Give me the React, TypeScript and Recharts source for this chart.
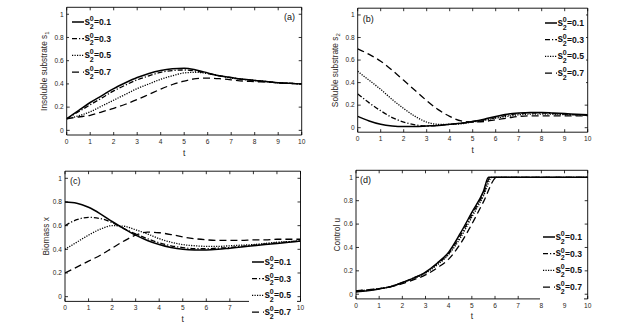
import React from 'react';
import { LineChart, Line, XAxis, YAxis, Legend, Label } from 'recharts';

// time grid shared by panels (a)-(c)
const T = [0, 0.5, 1, 1.5, 2, 2.5, 3, 3.5, 4, 4.5, 5, 5.5, 6, 6.5, 7, 7.5, 8, 8.5, 9, 9.5, 10];

const LEVELS = ['0.1', '0.3', '0.5', '0.7'];

// (a) insoluble substrate s1
const S1_01 = [0.1, 0.17, 0.24, 0.3, 0.36, 0.41, 0.455, 0.49, 0.515, 0.53, 0.535, 0.52, 0.495, 0.47, 0.455, 0.44, 0.43, 0.42, 0.41, 0.405, 0.4];
const S1_03 = [0.1, 0.16, 0.22, 0.28, 0.34, 0.39, 0.435, 0.47, 0.5, 0.515, 0.52, 0.51, 0.49, 0.47, 0.455, 0.44, 0.43, 0.42, 0.41, 0.405, 0.4];
const S1_05 = [0.1, 0.125, 0.16, 0.21, 0.26, 0.31, 0.36, 0.4, 0.44, 0.47, 0.495, 0.5, 0.49, 0.47, 0.45, 0.44, 0.43, 0.42, 0.41, 0.405, 0.4];
const S1_07 = [0.1, 0.115, 0.13, 0.16, 0.19, 0.225, 0.265, 0.31, 0.355, 0.395, 0.425, 0.445, 0.45, 0.445, 0.435, 0.425, 0.42, 0.415, 0.41, 0.405, 0.4];

// (b) soluble substrate s2
const S2_01 = [0.1, 0.06, 0.03, 0.015, 0.01, 0.01, 0.015, 0.02, 0.03, 0.04, 0.055, 0.075, 0.1, 0.12, 0.13, 0.135, 0.135, 0.13, 0.125, 0.12, 0.115];
const S2_03 = [0.3, 0.22, 0.15, 0.09, 0.05, 0.025, 0.015, 0.02, 0.03, 0.04, 0.055, 0.07, 0.09, 0.11, 0.125, 0.13, 0.13, 0.125, 0.12, 0.115, 0.11];
const S2_05 = [0.5, 0.42, 0.34, 0.25, 0.17, 0.1, 0.05, 0.03, 0.03, 0.035, 0.05, 0.065, 0.085, 0.1, 0.115, 0.12, 0.12, 0.12, 0.115, 0.115, 0.11];
const S2_07 = [0.7, 0.65, 0.59, 0.51, 0.42, 0.33, 0.24, 0.16, 0.1, 0.06, 0.05, 0.055, 0.07, 0.085, 0.1, 0.105, 0.105, 0.105, 0.105, 0.105, 0.105];

// (c) biomass x
const X_01 = [0.8, 0.79, 0.755, 0.7, 0.635, 0.575, 0.52, 0.475, 0.44, 0.415, 0.4, 0.395, 0.395, 0.4, 0.41, 0.42, 0.43, 0.44, 0.45, 0.46, 0.47];
const X_03 = [0.6, 0.65, 0.67, 0.66, 0.625, 0.575, 0.53, 0.49, 0.455, 0.43, 0.415, 0.405, 0.405, 0.41, 0.415, 0.425, 0.435, 0.445, 0.455, 0.465, 0.47];
const X_05 = [0.4, 0.46, 0.52, 0.57, 0.6, 0.595, 0.565, 0.53, 0.49, 0.46, 0.44, 0.43, 0.425, 0.425, 0.43, 0.435, 0.44, 0.45, 0.46, 0.465, 0.47];
const X_07 = [0.2, 0.25, 0.3, 0.35, 0.41, 0.47, 0.52, 0.545, 0.54, 0.525, 0.505, 0.49, 0.48, 0.475, 0.475, 0.475, 0.48, 0.48, 0.485, 0.485, 0.485];

// (d) control u, each run saturates at a different time
const TU_01 = [0, 0.5, 1, 1.5, 2, 2.5, 3, 3.5, 4, 4.5, 5, 5.5, 5.72, 6, 7, 8, 9, 10];
const U_01 = [0.02, 0.03, 0.045, 0.065, 0.1, 0.14, 0.19, 0.265, 0.36, 0.52, 0.7, 0.88, 1, 1, 1, 1, 1, 1];
const TU_03 = [0, 0.5, 1, 1.5, 2, 2.5, 3, 3.5, 4, 4.5, 5, 5.5, 5.8, 6, 7, 8, 9, 10];
const U_03 = [0.025, 0.033, 0.047, 0.066, 0.1, 0.14, 0.185, 0.26, 0.35, 0.5, 0.68, 0.86, 1, 1, 1, 1, 1, 1];
const TU_05 = [0, 0.5, 1, 1.5, 2, 2.5, 3, 3.5, 4, 4.5, 5, 5.5, 5.87, 6, 7, 8, 9, 10];
const U_05 = [0.03, 0.036, 0.048, 0.066, 0.098, 0.135, 0.18, 0.25, 0.34, 0.48, 0.66, 0.84, 1, 1, 1, 1, 1, 1];
const TU_07 = [0, 0.5, 1, 1.5, 2, 2.5, 3, 3.5, 4, 4.5, 5, 5.5, 6.08, 7, 8, 9, 10];
const U_07 = [0.03, 0.037, 0.048, 0.064, 0.09, 0.125, 0.165, 0.225, 0.3, 0.43, 0.6, 0.79, 1, 1, 1, 1, 1];

const X_TICKS = [0, 1, 2, 3, 4, 5, 6, 7, 8, 9, 10];
const Y_TICKS = [0, 0.2, 0.4, 0.6, 0.8, 1];

const DASH = [undefined, '5 2 1.2 2', '1.2 1.3', '7 4'];
const SW = [1.5, 1.3, 1.3, 1.3];
const FONT = 'Liberation Sans, Arial, sans-serif';
const TXT = '#2b2622';

const toSeries = (ts: number[], vs: number[]) => ts.map((t, i) => ({ t, v: vs[i] }));

type Box = { top: number; right: number; bottom: number; left: number };

type PanelProps = {
  left: number;
  top: number;
  width: number;
  height: number;
  plot: Box; // plot-area insets inside the panel
  series: { t: number; v: number }[][];
  yLabel: React.ReactNode;
  yLabelDx: number;
  tag: string;
  tagRight: boolean;
  tagDx: number;
  tagDy: number;
  legendLeft: number;
  legendTop: number;
  legendBoxW: number;
  coveredX?: number[]; // x tick labels sitting under the legend box
};

const fmt = (v: number) => String(v);

function LegendBox({ w }: { w: number }) {
  return (
    <svg width={60} height={72} style={{ overflow: 'visible', display: 'block' }}>
      <rect x={-1} y={-2} width={w} height={74} fill="#fff" />
      {LEVELS.map((lv, i) => {
        const y = 8 + i * 16.7;
        return (
          <g key={lv} fontFamily={FONT} fontWeight="bold" fill="#111">
            <line x1={2} x2={14} y1={y} y2={y} stroke="#000" strokeWidth={SW[i]} strokeDasharray={DASH[i]} />
            <text x={14.5} y={y + 2.6} fontSize={10}>s</text>
            <text x={19.8} y={y - 1.2} fontSize={7}>0</text>
            <text x={19.8} y={y + 6.6} fontSize={7}>2</text>
            <text x={24} y={y + 2.8} fontSize={8.6}>={lv}</text>
          </g>
        );
      })}
    </svg>
  );
}

function Panel(p: PanelProps) {
  // axes take 1px each, so margins are the plot insets minus 1
  const margin = { top: p.plot.top - 1, right: p.plot.right - 1, bottom: p.plot.bottom - 1, left: p.plot.left - 1 };
  const plotTop = p.plot.top;
  const covered = p.coveredX || [];
  return (
    <div style={{ position: 'absolute', left: p.left, top: p.top }}>
      <LineChart width={p.width} height={p.height} margin={margin}>
        <XAxis
          xAxisId="b"
          dataKey="t"
          type="number"
          domain={[0, 10]}
          ticks={X_TICKS}
          interval={0}
          allowDataOverflow
          height={1}
          tickSize={0}
          tickMargin={0}
          tickLine={false}
          axisLine={{ stroke: '#000', strokeWidth: 0.9 }}
          tick={(tp: any) => (
            <g>
              <line x1={tp.x} x2={tp.x} y1={tp.y} y2={tp.y - 3} stroke="#000" strokeWidth={0.8} />
              {covered.includes(tp.payload.value) ? null : (
                <text x={tp.x} y={tp.y + 9} textAnchor="middle" fontSize={6.6} fontFamily={FONT} fill={TXT}>
                  {fmt(tp.payload.value)}
                </text>
              )}
            </g>
          )}
        >
          <Label
            content={(lp: any) => {
              const vb = lp.viewBox;
              return (
                <text x={vb.x + vb.width / 2} y={vb.y + 20.5} textAnchor="middle" fontSize={8.5} fontFamily={FONT} fill={TXT}>
                  t
                </text>
              );
            }}
          />
        </XAxis>
        <XAxis
          xAxisId="tp"
          orientation="top"
          dataKey="t"
          type="number"
          domain={[0, 10]}
          ticks={X_TICKS}
          interval={0}
          allowDataOverflow
          height={1}
          tickSize={0}
          tickMargin={0}
          tickLine={false}
          axisLine={{ stroke: '#000', strokeWidth: 0.9 }}
          tick={(tp: any) => <line x1={tp.x} x2={tp.x} y1={tp.y} y2={tp.y + 3} stroke="#000" strokeWidth={0.8} />}
        >
          <Label
            content={(lp: any) => {
              const vb = lp.viewBox;
              const x = p.tagRight ? vb.x + vb.width - p.tagDx : vb.x + p.tagDx;
              return (
                <text x={x} y={plotTop + p.tagDy} textAnchor={p.tagRight ? 'end' : 'start'} fontSize={9} fontFamily={FONT} fill="#111">
                  {p.tag}
                </text>
              );
            }}
          />
        </XAxis>
        <YAxis
          yAxisId="l"
          type="number"
          domain={[-0.04, 1.06]}
          ticks={Y_TICKS}
          interval={0}
          allowDataOverflow
          width={1}
          tickSize={0}
          tickMargin={0}
          tickLine={false}
          axisLine={{ stroke: '#000', strokeWidth: 0.9 }}
          tick={(tp: any) => (
            <g>
              <line x1={tp.x} x2={tp.x + 3} y1={tp.y} y2={tp.y} stroke="#000" strokeWidth={0.8} />
              <text x={tp.x - 3} y={tp.y + 2.3} textAnchor="end" fontSize={6.6} fontFamily={FONT} fill={TXT}>
                {fmt(tp.payload.value)}
              </text>
            </g>
          )}
        >
          <Label
            content={(lp: any) => {
              const vb = lp.viewBox;
              const cx = vb.x + vb.width - p.yLabelDx;
              const cy = vb.y + vb.height / 2;
              return (
                <text x={cx} y={cy} transform={`rotate(-90 ${cx} ${cy})`} textAnchor="middle" dominantBaseline="middle" fontSize={8.3} fontFamily={FONT} fill={TXT}>
                  {p.yLabel}
                </text>
              );
            }}
          />
        </YAxis>
        <YAxis
          yAxisId="r"
          orientation="right"
          type="number"
          domain={[-0.04, 1.06]}
          ticks={Y_TICKS}
          interval={0}
          allowDataOverflow
          width={1}
          tickSize={0}
          tickMargin={0}
          tickLine={false}
          axisLine={{ stroke: '#000', strokeWidth: 0.9 }}
          tick={(tp: any) => <line x1={tp.x} x2={tp.x - 3} y1={tp.y} y2={tp.y} stroke="#000" strokeWidth={0.8} />}
        />
        {p.series.map((d, i) => (
          <Line
            key={i}
            data={d}
            xAxisId="b"
            yAxisId="l"
            dataKey="v"
            type="monotone"
            stroke="#000"
            strokeWidth={SW[i]}
            strokeDasharray={DASH[i]}
            dot={false}
            activeDot={false}
            isAnimationActive={false}
          />
        ))}
        <Legend
          layout="horizontal"
          verticalAlign="middle"
          align="center"
          wrapperStyle={{ position: 'absolute', left: p.legendLeft, top: p.legendTop, width: 60, height: 72, zIndex: 5 }}
          content={() => <LegendBox w={p.legendBoxW} />}
        />
      </LineChart>
    </div>
  );
}

export default function App() {
  return (
    <div style={{ position: 'absolute', left: 0, top: 0, width: 636, height: 335, background: '#fff', overflow: 'hidden' }}>
      <Panel
        left={0}
        top={0}
        width={318}
        height={167}
        plot={{ top: 7.3, right: 16.3, bottom: 32, left: 66.7 }}
        series={[toSeries(T, S1_01), toSeries(T, S1_03), toSeries(T, S1_05), toSeries(T, S1_07)]}
        yLabel={<>Insoluble substrate s<tspan fontSize={6} dy={2}>1</tspan></>}
        yLabelDx={21.7}
        tag="(a)"
        tagRight
        tagDx={6.7}
        tagDy={12.7}
        legendLeft={69.7}
        legendTop={13.7}
        legendBoxW={44}
      />
      <Panel
        left={318}
        top={0}
        width={318}
        height={167}
        plot={{ top: 8.2, right: 48.3, bottom: 34.8, left: 39.7 }}
        series={[toSeries(T, S2_01), toSeries(T, S2_03), toSeries(T, S2_05), toSeries(T, S2_07)]}
        yLabel={<>Soluble substrate s<tspan fontSize={6} dy={2}>2</tspan></>}
        yLabelDx={22}
        tag="(b)"
        tagRight={false}
        tagDx={5}
        tagDy={14}
        legendLeft={225}
        legendTop={14.7}
        legendBoxW={44}
      />
      <Panel
        left={0}
        top={167}
        width={318}
        height={168}
        plot={{ top: 4.2, right: 17.5, bottom: 33.6, left: 65 }}
        series={[toSeries(T, X_01), toSeries(T, X_03), toSeries(T, X_05), toSeries(T, X_07)]}
        yLabel="Biomass x"
        yLabelDx={18.3}
        tag="(c)"
        tagRight={false}
        tagDx={5}
        tagDy={13}
        legendLeft={249.7}
        legendTop={86.7}
        legendBoxW={48}
        coveredX={[8, 9]}
      />
      <Panel
        left={318}
        top={167}
        width={318}
        height={168}
        plot={{ top: 3.3, right: 48.3, bottom: 36.1, left: 38 }}
        series={[toSeries(TU_01, U_01), toSeries(TU_03, U_03), toSeries(TU_05, U_05), toSeries(TU_07, U_07)]}
        yLabel="Control u"
        yLabelDx={17.7}
        tag="(d)"
        tagRight={false}
        tagDx={4}
        tagDy={12.7}
        legendLeft={223}
        legendTop={61.7}
        legendBoxW={44}
      />
    </div>
  );
}
